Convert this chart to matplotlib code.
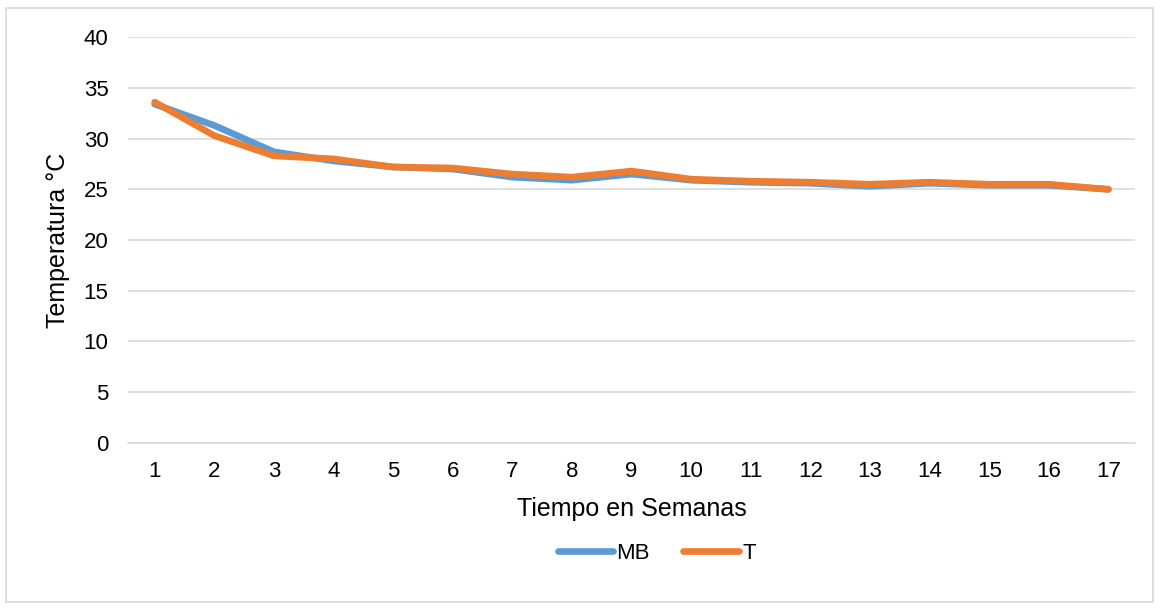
import matplotlib.pyplot as plt
from matplotlib.patches import Rectangle

# temperatura semanal, dos tratamientos
semanas = list(range(1, 18))
mb = [33.4, 31.3, 28.7, 27.8, 27.2, 27.0, 26.2, 25.9, 26.5, 25.9, 25.7, 25.6, 25.3, 25.6, 25.4, 25.4, 25.0]
t = [33.6, 30.3, 28.3, 28.0, 27.2, 27.1, 26.5, 26.2, 26.8, 26.0, 25.8, 25.7, 25.5, 25.7, 25.5, 25.5, 25.0]

plt.rcParams["font.family"] = ["Liberation Sans", "DejaVu Sans"]

fig = plt.figure(figsize=(11.62, 6.10), dpi=100)
ax = fig.add_axes([0.110, 0.274, 0.867, 0.665])

ax.plot(semanas, mb, color="#5B9BD5", lw=4.8, label="MB", solid_capstyle="round")
ax.plot(semanas, t, color="#ED7D31", lw=4.8, label="T", solid_capstyle="round")

ax.set_ylim(0, 40)
ax.set_yticks(range(0, 41, 5))
ax.set_xlim(0.55, 17.45)
ax.set_xticks(semanas)
ax.grid(axis="y", color="#D9D9D9", lw=1.2)
ax.set_axisbelow(True)
for s in ["top", "right", "left"]:
    ax.spines[s].set_visible(False)
ax.spines["bottom"].set_color("#D9D9D9")
ax.spines["bottom"].set_linewidth(1.2)
ax.tick_params(length=0, labelsize=16, colors="#000000")
ax.tick_params(axis="x", pad=13)
ax.tick_params(axis="y", pad=14)

ax.set_xlabel("Tiempo en Semanas", fontsize=18, labelpad=11)
ax.set_ylabel("Temperatura °C", fontsize=18, labelpad=10)

ax.legend(loc="upper center", bbox_to_anchor=(0.525, -0.198), ncol=2, frameon=False,
          fontsize=16, handlelength=2.5, handletextpad=0.15, columnspacing=1.5)

# marco exterior del grafico
fig.patches.append(Rectangle((6 / 1162, 8 / 610), 1147 / 1162, 594 / 610,
                             transform=fig.transFigure, fill=False,
                             edgecolor="#D9D9D9", lw=1.2))

fig.savefig("out.png", dpi=100)
